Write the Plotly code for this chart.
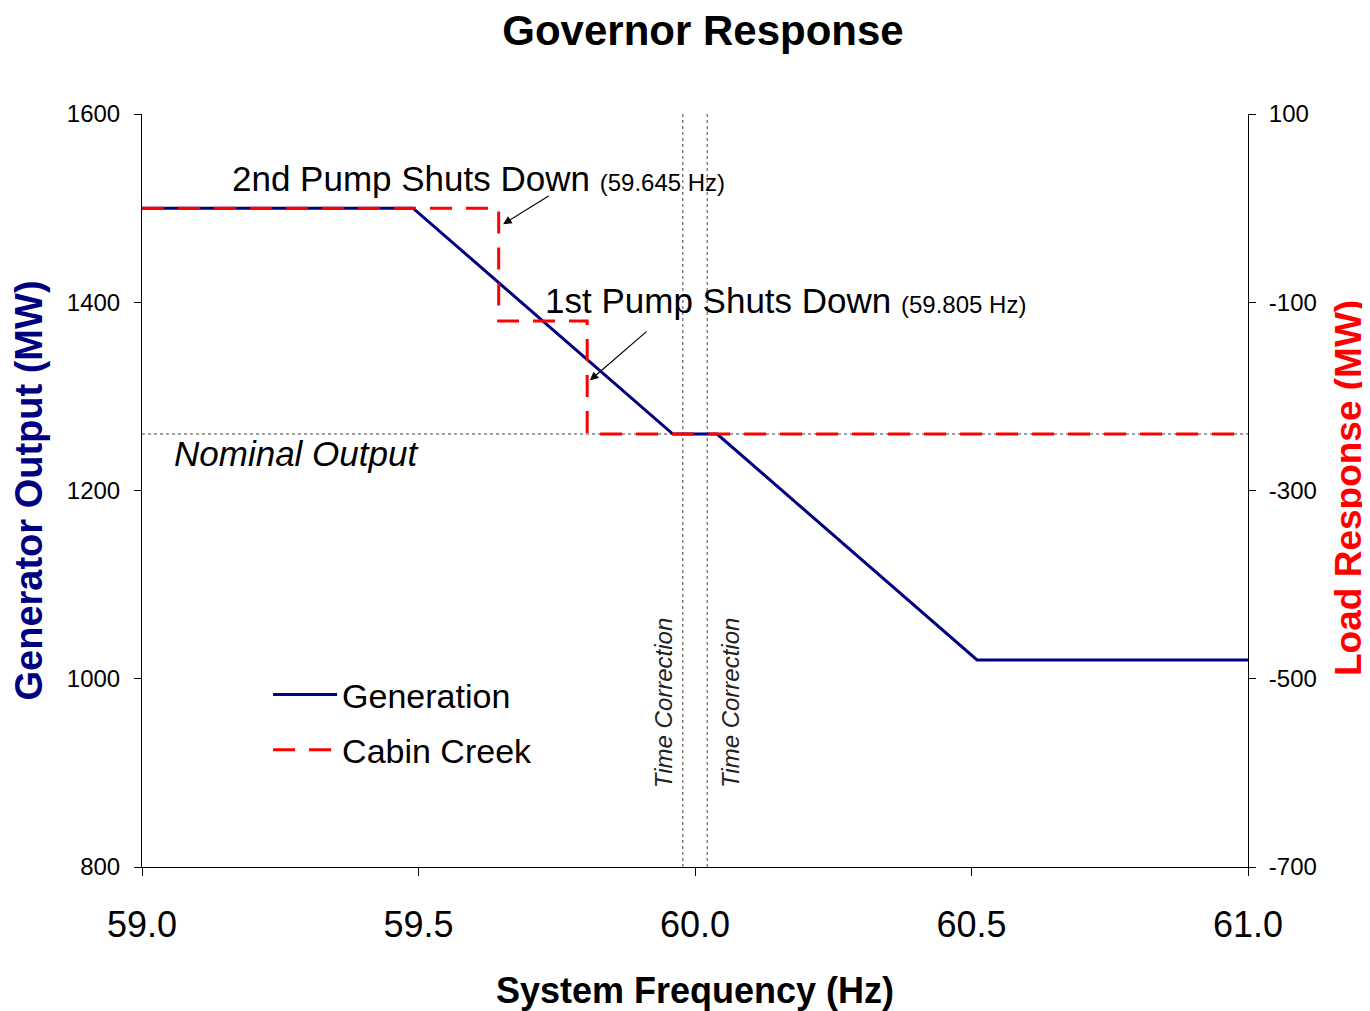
import plotly.graph_objects as go

# ---- data ----
gen_freq = [59.0, 59.49, 59.96, 60.04, 60.51, 61.0]
gen_mw = [1500, 1500, 1260, 1260, 1020, 1020]

cc_freq = [59.0, 59.645, 59.645, 59.805, 59.805, 61.0]
cc_mw = [0, 0, -120, -120, -240, -240]

nominal_output = 1260
time_correction = [59.978, 60.022]

x_ticks = [59.0, 59.5, 60.0, 60.5, 61.0]
x_labels = ["59.0", "59.5", "60.0", "60.5", "61.0"]
y_left_ticks = [800, 1000, 1200, 1400, 1600]
y_right_ticks = [-700, -500, -300, -100, 100]
y_right_labels = ["-700", "-500", "-300", "-100", "100"]

NAVY = "#000080"
RED = "#FF0000"
FONT = "Liberation Sans, Arial, sans-serif"

fig = go.Figure()
fig.add_trace(go.Scatter(x=gen_freq, y=gen_mw, mode="lines", name="Generation",
                         legendgroup="g1",
                         line=dict(color=NAVY, width=3), yaxis="y"))
fig.add_trace(go.Scatter(x=cc_freq, y=cc_mw, mode="lines", name="Cabin Creek",
                         legendgroup="g2",
                         line=dict(color=RED, width=3, dash="22px,14px"), yaxis="y2"))

# reference lines
fig.add_shape(type="line", xref="x", yref="y", x0=59.0, x1=61.0,
              y0=nominal_output, y1=nominal_output,
              line=dict(color="#444444", width=1, dash="dot"), layer="below")
for tc in time_correction:
    fig.add_shape(type="line", xref="x", yref="paper", x0=tc, x1=tc, y0=0, y1=1,
                  line=dict(color="#444444", width=1, dash="dot"), layer="below")

SMALL = "<span style='font-size:24px'>"
ann = []
ann.append(dict(x=59.159, y=1532, xref="x", yref="y", xanchor="left", yanchor="middle",
                text="2nd Pump Shuts Down " + SMALL + "(59.645 Hz)</span>",
                showarrow=False, font=dict(family=FONT, size=35, color="black")))
ann.append(dict(x=59.726, y=1402, xref="x", yref="y", xanchor="left", yanchor="middle",
                text="1st Pump Shuts Down " + SMALL + "(59.805 Hz)</span>",
                showarrow=False, font=dict(family=FONT, size=35, color="black")))
ann.append(dict(x=59.653, y=1483, xref="x", yref="y", text="", showarrow=True,
                ax=47, ay=-29, arrowhead=2, arrowsize=1.4, arrowwidth=1.2, arrowcolor="black"))
ann.append(dict(x=59.810, y=1317, xref="x", yref="y", text="", showarrow=True,
                ax=58, ay=-50, arrowhead=2, arrowsize=1.4, arrowwidth=1.2, arrowcolor="black"))
ann.append(dict(x=59.054, y=1239, xref="x", yref="y", xanchor="left", yanchor="middle",
                text="<i>Nominal Output</i>", showarrow=False,
                font=dict(family=FONT, size=35, color="black")))
for xc in [59.942, 60.063]:
    ann.append(dict(x=xc, y=975, xref="x", yref="y", xanchor="center", yanchor="middle",
                    text="<i>Time Correction</i>", textangle=-90, showarrow=False,
                    font=dict(family=FONT, size=24, color="#222222")))
# right axis title (placed as annotation so it is not clipped)
ann.append(dict(x=(1340 - 134) / 1106, y=(867 - 488) / 753, xref="paper", yref="paper",
                xanchor="center", yanchor="middle", textangle=-90, showarrow=False,
                text="<b>Load Response (MW)</b>",
                font=dict(family=FONT, size=37, color=RED)))

fig.update_layout(
    width=1362, height=1003,
    margin=dict(l=134, r=122, t=106, b=144, autoexpand=False),
    paper_bgcolor="white", plot_bgcolor="white",
    title=dict(text="<b>Governor Response</b>", x=695 / 1362, xanchor="center",
               y=1 - 22 / 1003, yanchor="middle", yref="container",
               font=dict(family=FONT, size=42, color="black")),
    font=dict(family=FONT, color="black"),
    xaxis=dict(range=[59.0, 61.0], tickvals=x_ticks, ticktext=x_labels,
               ticks="outside", ticklen=8, tickcolor="black", showline=True,
               linecolor="black", linewidth=1, showgrid=False, zeroline=False,
               ticklabelstandoff=18, automargin=False,
               tickfont=dict(family=FONT, size=36, color="black"),
               title=dict(text="<b>System Frequency (Hz)</b>", standoff=46,
                          font=dict(family=FONT, size=36, color="black"))),
    yaxis=dict(range=[800, 1600], tickvals=y_left_ticks, ticks="outside", ticklen=7,
               tickcolor="black", showline=True, linecolor="black", linewidth=1,
               showgrid=False, zeroline=False, ticklabelstandoff=9, automargin=False,
               tickfont=dict(family=FONT, size=24, color="black"),
               title=dict(text="<b>Generator Output (MW)</b>", standoff=24,
                          font=dict(family=FONT, size=38, color=NAVY))),
    yaxis2=dict(range=[-700, 100], tickvals=y_right_ticks, ticktext=y_right_labels,
                overlaying="y", side="right",
                ticks="outside", ticklen=7, tickcolor="black", showline=True,
                linecolor="black", linewidth=1, showgrid=False, zeroline=False,
                ticklabelstandoff=8, automargin=False,
                tickfont=dict(family=FONT, size=24, color="black")),
    legend=dict(x=0.114, y=0.267, xanchor="left", yanchor="top", bgcolor="rgba(0,0,0,0)",
                font=dict(family=FONT, size=34, color="black"), tracegroupgap=8,
                itemwidth=64),
    showlegend=True,
    annotations=ann,
)

fig.write_html("out.html")
